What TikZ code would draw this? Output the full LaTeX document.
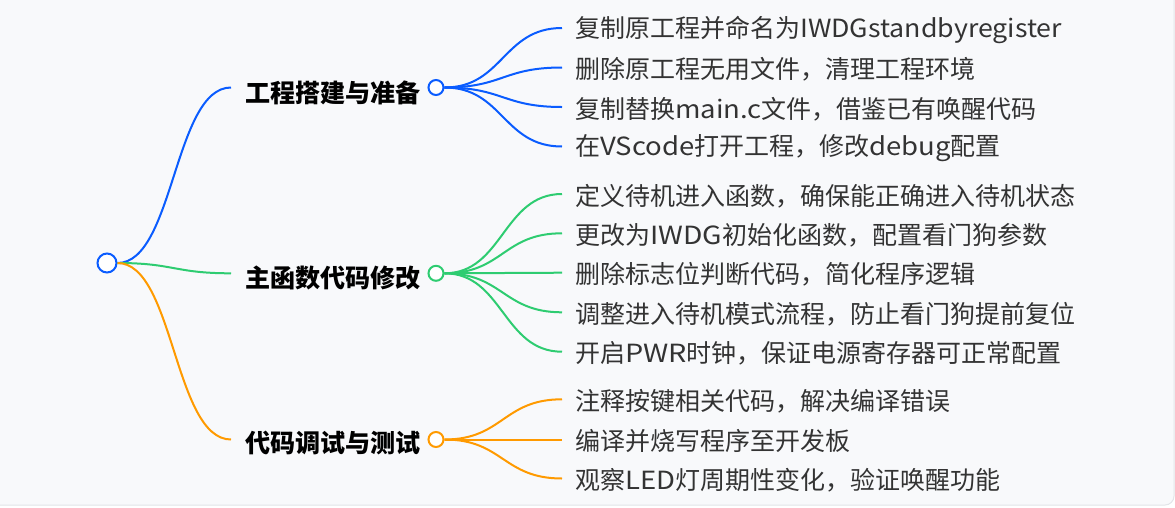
\documentclass[tikz,border=0pt]{standalone}
\usepackage{fontspec}
\setmainfont{Noto Sans CJK SC}
\usetikzlibrary{calc}
\definecolor{bgc}{HTML}{F8F9FB}
\definecolor{edgec}{HTML}{E2E4E8}
\definecolor{cblue}{HTML}{0A5CFF}
\definecolor{cgreen}{HTML}{2ECC71}
\definecolor{corange}{HTML}{FF9A00}
\definecolor{leaftext}{HTML}{333333}
\newcommand\la[2][1.1]{\scalebox{#1}[1]{#2}}
\begin{document}
\begin{tikzpicture}[x=1pt,y=-1pt,
  link/.style={line width=2pt},
  dot/.style={circle,draw,fill=white,line width=2pt,inner sep=0pt},
  branch/.style={anchor=west,inner sep=0pt,font=\fontsize{25.1}{27}\selectfont\bfseries,text=black},
  leaf/.style={anchor=west,inner sep=0pt,font=\fontsize{25}{27}\selectfont,text=leaftext}]
\useasboundingbox (0,0) rectangle (1175,507);
\fill[white] (0,0) rectangle (1175,507);
\draw[fill=bgc,draw=edgec,line width=1pt,rounded corners=9pt] (-20,-20) rectangle (1174,505);

% root
\node[dot,draw=cblue,minimum size=19pt] (root) at (107,263) {};

% branch nodes
\node[branch] (b1) at (245,93) {工程搭建与准备};
\node[branch] (b2) at (245,278) {主函数代码修改};
\node[branch] (b3) at (245,443) {代码调试与测试};
\coordinate (b1in) at (231,87.5);
\coordinate (b2in) at (231,273.3);
\coordinate (b3in) at (231,439.5);
\node[dot,draw=cblue,minimum size=15pt] (c1) at (436,87.5) {};
\node[dot,draw=cgreen,minimum size=15pt] (c2) at (436,273.3) {};
\node[dot,draw=corange,minimum size=15pt] (c3) at (436,439.5) {};

% root links
\draw[link,cblue] (root.east) .. controls (174,263) and (174,87.5) .. (b1in);
\draw[link,cgreen] (root.east) .. controls (174,263) and (174,273.3) .. (b2in);
\draw[link,corange] (root.east) .. controls (174,263) and (174,439.5) .. (b3in);

% leaves
\node[leaf] (l11) at (575,30) {复制原工程并命名为\la[1.07]{IWDGstandbyregister}};
\node[leaf] (l12) at (575,69.5) {删除原工程无用文件，清理工程环境};
\node[leaf] (l13) at (575,109) {复制替换\la{main.c}文件，借鉴已有唤醒代码};
\node[leaf] (l14) at (575,148.5) {在\la{VScode}打开工程，修改\la{debug}配置};

\node[leaf] (l21) at (575,196) {定义待机进入函数，确保能正确进入待机状态};
\node[leaf] (l22) at (575,235.3) {更改为\la[1.13]{IWDG}初始化函数，配置看门狗参数};
\node[leaf] (l23) at (575,274.7) {删除标志位判断代码，简化程序逻辑};
\node[leaf] (l24) at (575,314.3) {调整进入待机模式流程，防止看门狗提前复位};
\node[leaf] (l25) at (575,353.7) {开启\la[1.15]{PWR}时钟，保证电源寄存器可正常配置};

\node[leaf] (l31) at (575,401.3) {注释按键相关代码，解决编译错误};
\node[leaf] (l32) at (575,441.5) {编译并烧写程序至开发板};
\node[leaf] (l33) at (575,480.5) {观察\la{LED}灯周期性变化，验证唤醒功能};

\foreach \l/\c/\col in {l11/c1/cblue,l12/c1/cblue,l13/c1/cblue,l14/c1/cblue,
  l21/c2/cgreen,l22/c2/cgreen,l23/c2/cgreen,l24/c2/cgreen,l25/c2/cgreen,
  l31/c3/corange,l32/c3/corange,l33/c3/corange}{
  \draw[link,\col] let \p1=(\c.east), \p2=($(\l.west)+(-13,-2)$) in
    (\c.east) .. controls (503,\y1) and (503,\y2) .. (\p2);
}
\end{tikzpicture}
\end{document}
